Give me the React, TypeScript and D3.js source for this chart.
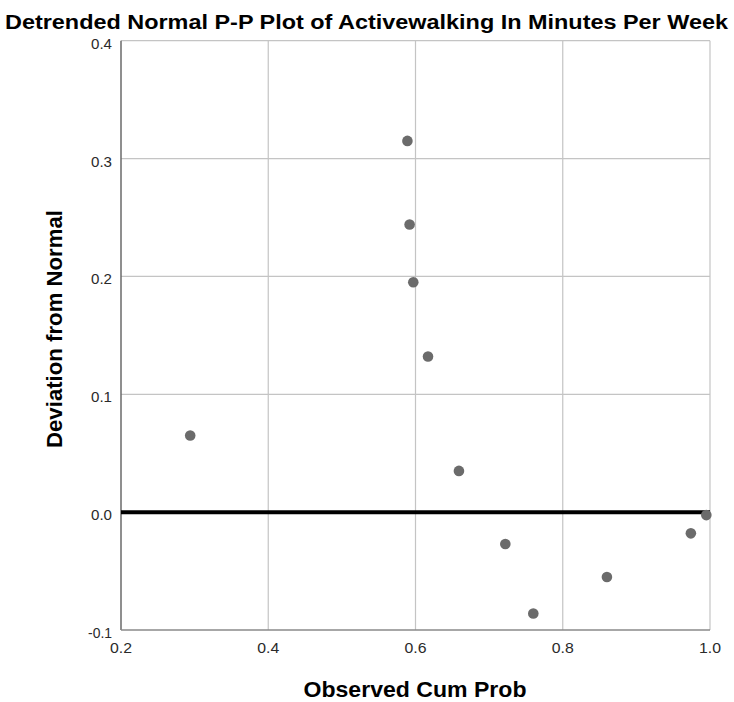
import React from "react";
import * as d3 from "d3";

const chartTitle = "Detrended Normal P-P Plot of Activewalking In Minutes Per Week";
const xTitle = "Observed Cum Prob";
const yTitle = "Deviation from Normal";

const observedCumProb = [0.294, 0.589, 0.592, 0.597, 0.617, 0.659, 0.722, 0.760, 0.860, 0.974, 0.995];
const deviation = [0.065, 0.315, 0.244, 0.195, 0.132, 0.035, -0.027, -0.086, -0.055, -0.018, -0.0025];

const xTicks = [0.2, 0.4, 0.6, 0.8, 1.0];
const yTicks = [-0.1, 0.0, 0.1, 0.2, 0.3, 0.4];

const W = 734;
const H = 702;
const font = "'Liberation Sans', Arial, Helvetica, sans-serif";

export default function App() {
  const x = d3.scaleLinear().domain([0.2, 1.0]).range([121, 710]);
  const y = d3.scaleLinear().domain([-0.1, 0.4]).range([630, 40.7]);
  const fmt = (v: number) => d3.format(".1f")(v).replace("\u2212", "-");
  const points = observedCumProb.map((v, i) => ({ x: v, y: deviation[i] }));

  return (
    <div style={{ position: "absolute", left: 0, top: 0 }}>
      <svg width={W} height={H} style={{ display: "block", background: "#fff" }}>
        <rect x={0} y={0} width={W} height={H} fill="#fff" />
        {/* grid */}
        {xTicks.filter((t) => t > 0.2).map((t) => (
          <line key={"gx" + t} x1={x(t)} x2={x(t)} y1={y(0.4)} y2={y(-0.1)} stroke="#c4c4c4" strokeWidth={1.2} />
        ))}
        {yTicks.filter((t) => t > -0.1).map((t) => (
          <line key={"gy" + t} x1={x(0.2)} x2={x(1.0)} y1={y(t)} y2={y(t)} stroke="#c4c4c4" strokeWidth={1.2} />
        ))}
        {/* axes */}
        <line x1={x(0.2)} x2={x(0.2)} y1={y(0.4)} y2={y(-0.1)} stroke="#6a6a6a" strokeWidth={1.5} />
        <line x1={x(0.2)} x2={x(1.0)} y1={y(-0.1)} y2={y(-0.1)} stroke="#8a8a8a" strokeWidth={1.5} />
        {/* zero reference line */}
        <line x1={x(0.2)} x2={x(1.0)} y1={y(0)} y2={y(0)} stroke="#000" strokeWidth={4} />
        {/* points */}
        {points.map((p, i) => (
          <circle key={i} cx={x(p.x)} cy={y(p.y)} r={5.3} fill="#6b6b6b" />
        ))}
        {/* tick labels */}
        {yTicks.map((t) => (
          <text key={"ty" + t} x={112} y={y(t) + 8} textAnchor="end"
            fontFamily={font} fontSize={14} fill="#2a2a2a"
            textLength={t < 0 ? 24 : 21} lengthAdjust="spacingAndGlyphs">{fmt(t)}</text>
        ))}
        {xTicks.map((t) => (
          <text key={"tx" + t} x={x(t)} y={653} textAnchor="middle"
            fontFamily={font} fontSize={14} fill="#2a2a2a"
            textLength={22} lengthAdjust="spacingAndGlyphs">{fmt(t)}</text>
        ))}
        {/* titles */}
        <text x={366.5} y={28.5} textAnchor="middle" fontFamily={font} fontSize={20} fontWeight="bold" fill="#000"
          textLength={723} lengthAdjust="spacingAndGlyphs">{chartTitle}</text>
        <text x={415} y={697} textAnchor="middle" fontFamily={font} fontSize={22} fontWeight="bold" fill="#000"
          textLength={223} lengthAdjust="spacingAndGlyphs">{xTitle}</text>
        <text transform={`translate(61.5,329) rotate(-90)`} textAnchor="middle"
          fontFamily={font} fontSize={22} fontWeight="bold" fill="#000"
          textLength={238} lengthAdjust="spacingAndGlyphs">{yTitle}</text>
      </svg>
    </div>
  );
}
